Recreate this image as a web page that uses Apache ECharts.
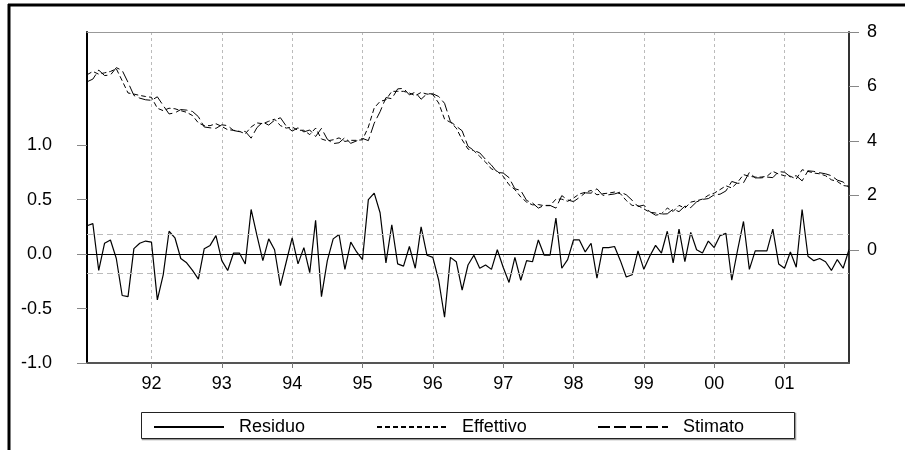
<!DOCTYPE html>
<html><head><meta charset="utf-8">
<script src="https://cdn.jsdelivr.net/npm/echarts@6/dist/echarts.min.js"></script>
<style>html,body{margin:0;padding:0;background:#fff}#c{width:905px;height:450px}</style>
</head><body><div id="c"></div>
<script>
const startYear = 1991, startMonth = 2, nObs = 131;
const yearTickLabels = ['92','93','94','95','96','97','98','99','00','01'];
const leftTicks = [-1.0, -0.5, 0.0, 0.5, 1.0];
const rightTicks = [0, 2, 4, 6, 8];
const bandLevels = [0.185, -0.185];

const residuo = [0.26,0.28,-0.15,0.10,0.13,-0.04,-0.38,-0.39,0.05,0.10,0.12,0.11,
-0.42,-0.19,0.21,0.15,-0.04,-0.08,-0.15,-0.23,0.05,0.08,0.17,-0.06,
-0.15,0.01,0.01,-0.09,0.41,0.17,-0.06,0.14,0.04,-0.29,-0.07,0.15,
-0.09,0.06,-0.17,0.31,-0.39,-0.06,0.14,0.18,-0.14,0.11,0.02,-0.05,
0.50,0.56,0.38,-0.08,0.27,-0.09,-0.11,0.07,-0.13,0.25,-0.01,-0.03,
-0.24,-0.58,-0.03,-0.07,-0.33,-0.10,-0.01,-0.13,-0.10,-0.14,0.04,-0.12,
-0.26,-0.03,-0.24,-0.06,-0.07,0.13,-0.01,-0.01,0.33,-0.13,-0.05,0.13,
0.13,0.02,0.10,-0.22,0.06,0.06,0.07,-0.06,-0.21,-0.19,0.03,-0.14,
-0.02,0.08,0.01,0.21,-0.08,0.23,-0.07,0.20,0.04,0.01,0.12,0.06,
0.17,0.19,-0.24,0.04,0.30,-0.14,0.03,0.03,0.03,0.23,-0.09,-0.13,
0.02,-0.12,0.41,-0.02,-0.06,-0.04,-0.07,-0.15,-0.05,-0.13,0.04];

const effettivo = [6.43,6.55,6.45,6.50,6.55,6.65,6.21,5.76,5.72,5.67,5.63,5.60,
5.20,5.11,5.20,5.18,5.11,5.05,4.93,4.66,4.56,4.56,4.63,4.53,
4.41,4.39,4.35,4.26,4.51,4.66,4.63,4.72,4.80,4.56,4.47,4.51,
4.39,4.39,4.23,4.47,4.07,4.00,4.04,4.11,3.98,4.02,4.02,4.04,
4.51,5.21,5.45,5.51,5.82,5.82,5.82,5.76,5.66,5.78,5.72,5.70,
5.39,4.80,4.68,4.47,4.04,3.70,3.64,3.43,3.22,2.97,2.88,2.70,
2.39,2.21,1.94,1.75,1.65,1.66,1.62,1.62,1.86,1.86,1.78,1.90,
2.05,2.11,2.18,2.02,2.06,2.08,2.12,2.06,1.81,1.63,1.62,1.50,
1.38,1.35,1.32,1.53,1.41,1.63,1.53,1.75,1.80,1.86,2.00,2.08,
2.21,2.35,2.27,2.48,2.76,2.70,2.67,2.67,2.70,2.88,2.78,2.72,
2.70,2.60,2.94,2.88,2.82,2.79,2.72,2.57,2.51,2.36,2.33];

const stimato = [6.17,6.27,6.60,6.40,6.42,6.69,6.59,6.15,5.67,5.57,5.51,5.49,
5.62,5.30,4.99,5.03,5.15,5.13,5.08,4.89,4.51,4.48,4.46,4.59,
4.56,4.38,4.34,4.35,4.10,4.49,4.69,4.58,4.76,4.85,4.54,4.36,
4.48,4.33,4.40,4.16,4.46,4.06,3.90,3.93,4.12,3.91,4.00,4.09,
4.01,4.65,5.07,5.59,5.55,5.91,5.93,5.69,5.79,5.53,5.73,5.73,
5.63,5.38,4.71,4.54,4.37,3.80,3.65,3.56,3.32,3.11,2.84,2.82,
2.65,2.24,2.18,1.81,1.72,1.53,1.63,1.63,1.53,1.99,1.83,1.77,
1.92,2.09,2.08,2.24,2.00,2.02,2.05,2.12,2.02,1.82,1.59,1.64,
1.40,1.27,1.31,1.32,1.49,1.40,1.60,1.55,1.76,1.85,1.88,2.02,
2.04,2.16,2.51,2.44,2.46,2.84,2.64,2.64,2.67,2.65,2.87,2.85,
2.68,2.72,2.53,2.90,2.88,2.83,2.79,2.72,2.56,2.49,2.29];

const categories = [];
for (let k = 0; k < nObs; k++) {
  const m = startMonth - 1 + k;
  const y = startYear + Math.floor(m / 12);
  categories.push(y + 'M' + String(m % 12 + 1).padStart(2, '0'));
}
const isJan = (idx, val) => String(val).endsWith('M01');
const yearLabel = (val) => {
  if (!String(val).endsWith('M01')) return '';
  const yy = String(val).slice(2, 4);
  return yearTickLabels.includes(yy) ? yy : '';
};

const FONT = "'Liberation Sans', Arial, sans-serif";
const FS = 18;
const chart = echarts.init(document.getElementById('c'), null, {renderer: 'canvas'});

const legendBase = {
  orient: 'horizontal', top: 418, itemWidth: 70, itemHeight: 14, padding: 0,
  selectedMode: false,
  itemStyle: {opacity: 0},
  textStyle: {fontFamily: FONT, fontSize: FS, color: '#000', padding: [0, 0, 0, 10]}
};

chart.setOption({
  animation: false,
  backgroundColor: '#fff',
  grid: {left: 87, top: 32, width: 762, height: 331, show: false},
  legend: [
    Object.assign({}, legendBase, {left: 153, data: ['Residuo']}),
    Object.assign({}, legendBase, {left: 376, data: ['Effettivo']}),
    Object.assign({}, legendBase, {left: 597, data: ['Stimato']})
  ],
  xAxis: [{
    type: 'category', data: categories, boundaryGap: false, position: 'bottom',
    axisLine: {onZero: false, lineStyle: {color: '#555', width: 2}},
    axisTick: {show: true, interval: isJan, length: 5, lineStyle: {color: '#777', width: 1}},
    axisLabel: {interval: isJan, formatter: yearLabel, margin: 12, fontFamily: FONT, fontSize: FS, color: '#000'},
    splitLine: {show: true, interval: isJan, lineStyle: {color: '#bbb', width: 1, type: [3, 3]}}
  }, {
    type: 'category', data: categories, boundaryGap: false, position: 'top',
    axisLine: {onZero: false, lineStyle: {color: '#999', width: 1}},
    axisTick: {show: false}, axisLabel: {show: false}, splitLine: {show: false}
  }],
  yAxis: [{
    type: 'value', position: 'left', min: -1.0, max: 2.04,
    axisLine: {show: true, onZero: false, lineStyle: {color: '#000', width: 2}},
    axisTick: {show: true, customValues: leftTicks, length: 10, lineStyle: {color: '#888', width: 1}},
    axisLabel: {customValues: leftTicks, formatter: v => v.toFixed(1), margin: 35,
      fontFamily: FONT, fontSize: FS, color: '#000'},
    splitLine: {show: false}
  }, {
    type: 'value', position: 'right', min: -4.16, max: 8,
    axisLine: {show: true, onZero: false, lineStyle: {color: '#333', width: 2}},
    axisTick: {show: true, customValues: rightTicks, length: 10, lineStyle: {color: '#888', width: 1}},
    axisLabel: {customValues: rightTicks, formatter: v => String(v), margin: 18,
      fontFamily: FONT, fontSize: FS, color: '#000'},
    splitLine: {show: false}
  }],
  series: [{
    name: 'Residuo', type: 'line', data: residuo, yAxisIndex: 0, symbol: 'none',
    lineStyle: {color: '#000', width: 1.2, type: 'solid'}, itemStyle: {color: '#000'}, z: 4,
    markLine: {
      silent: true, symbol: 'none', label: {show: false},
      data: [
        {yAxis: 0, lineStyle: {color: '#000', width: 1, type: 'solid'}},
        {yAxis: bandLevels[0], lineStyle: {color: '#bbb', width: 1.2, type: [6, 4]}},
        {yAxis: bandLevels[1], lineStyle: {color: '#bbb', width: 1.2, type: [6, 4]}}
      ]
    }
  }, {
    name: 'Effettivo', type: 'line', data: effettivo, yAxisIndex: 1, symbol: 'none',
    lineStyle: {color: '#000', width: 1, type: [5, 3]}, itemStyle: {color: '#000'}, z: 3
  }, {
    name: 'Stimato', type: 'line', data: stimato, yAxisIndex: 1, symbol: 'none',
    lineStyle: {color: '#000', width: 1, type: [12, 4]}, itemStyle: {color: '#000'}, z: 3
  }],
  graphic: [
    {type: 'line', shape: {x1: 8, y1: 5, x2: 905, y2: 5}, style: {stroke: '#000', lineWidth: 3}, silent: true},
    {type: 'line', shape: {x1: 9, y1: 4, x2: 9, y2: 450}, style: {stroke: '#000', lineWidth: 3}, silent: true},
    {type: 'rect', shape: {x: 142.5, y: 413.5, width: 653, height: 26}, style: {fill: 'none', stroke: '#999', lineWidth: 1.5}, silent: true, z: -1},
    {type: 'rect', shape: {x: 141.5, y: 412.5, width: 653, height: 26}, style: {fill: '#fff', stroke: '#222', lineWidth: 1}, silent: true, z: -1}
  ]
});
</script></body></html>
